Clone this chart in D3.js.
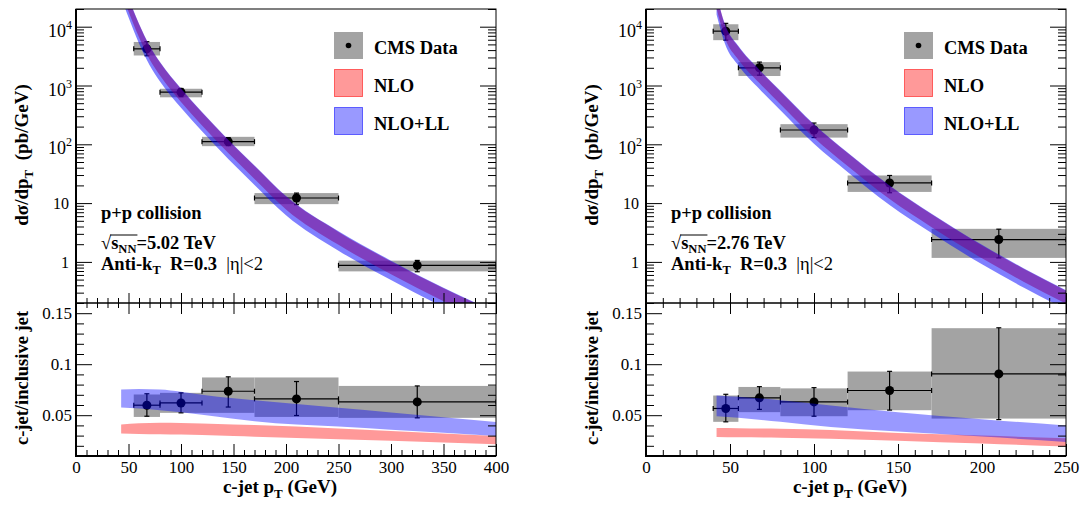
<!DOCTYPE html>
<html><head><meta charset="utf-8">
<script src="https://cdn.jsdelivr.net/npm/d3@7"></script>
<style>
body{margin:0;background:#fff;}
svg text{font-family:"Liberation Serif","Times New Roman",serif;}
</style></head><body><svg id="c" width="1083" height="505"></svg>
<script>
// ---------- 5.02 TeV data ----------
const binLo502 = [55, 80, 120, 170, 250];
const binHi502 = [80, 120, 170, 250, 400];
const pt502 = [67.5, 100, 145, 210, 325];
const xs502 = [4200, 770, 111, 12.2, 0.875];
const xsStatLo502 = [3200, 645, 95, 9.4, 0.68];
const xsStatHi502 = [5560, 890, 130, 14.8, 1.06];
const xsSysLo502 = [3240, 630, 93, 9.6, 0.69];
const xsSysHi502 = [5500, 880, 134, 14.8, 1.05];
const ratio502 = [0.0598, 0.062, 0.0735, 0.066, 0.063];
const ratioStatLo502 = [0.049, 0.0523, 0.058, 0.0497, 0.0474];
const ratioStatHi502 = [0.071, 0.0719, 0.0876, 0.083, 0.0787];
const ratioSysLo502 = [0.0483, 0.0523, 0.0523, 0.0483, 0.0474];
const ratioSysHi502 = [0.0703, 0.0719, 0.087, 0.087, 0.0787];
// theory bands 5.02 TeV (cross section)
const bandPt502 = [43, 50, 60, 70, 80, 100, 120, 145, 170, 200, 250, 300, 350, 400];
const nloLo502 = [3.9e4, 1.82e4, 6600, 2800, 1480, 525, 209, 71, 25.7, 7.8, 1.95, 0.617, 0.214, 0.083];
const nloHi502 = [6.5e4, 3.0e4, 1.10e4, 4700, 2450, 870, 347, 117, 42.7, 12.9, 3.24, 1.02, 0.355, 0.138];
const nllLo502 = [3.1e4, 1.45e4, 5200, 2240, 1170, 417, 166, 56, 20.4, 6.2, 1.55, 0.49, 0.17, 0.066];
const nllHi502 = [6.6e4, 3.1e4, 1.12e4, 4800, 2500, 890, 355, 120, 43.7, 13.2, 3.31, 1.05, 0.363, 0.141];
// theory bands 5.02 TeV (ratio)
const rPt502 = [43, 60, 80, 100, 120, 150, 170, 250, 300, 400];
const rNllLo502 = [0.0575, 0.0565, 0.0549, 0.053, 0.0505, 0.0465, 0.0440, 0.0388, 0.0357, 0.0297];
const rNllHi502 = [0.0752, 0.0757, 0.0752, 0.073, 0.070, 0.0665, 0.0647, 0.0573, 0.0527, 0.0434];
const rNloLo502 = [0.032, 0.0316, 0.0313, 0.031, 0.0305, 0.0295, 0.0288, 0.0265, 0.025, 0.0216];
const rNloHi502 = [0.0409, 0.0420, 0.0425, 0.0423, 0.0418, 0.041, 0.0405, 0.037, 0.0345, 0.0297];

// ---------- 2.76 TeV data ----------
const binLo276 = [40, 55, 80, 120, 170];
const binHi276 = [55, 80, 120, 170, 250];
const pt276 = [47.5, 67.5, 100, 145, 210];
const xs276 = [8400, 2000, 175, 22, 2.4];
const xsStatLo276 = [5900, 1500, 130, 15, 1.17];
const xsStatHi276 = [11400, 2500, 230, 29.5, 3.6];
const xsSysLo276 = [5900, 1450, 130, 15.5, 1.17];
const xsSysHi276 = [11000, 2500, 220, 29.5, 3.65];
const ratio276 = [0.0566, 0.067, 0.063, 0.0742, 0.0905];
const ratioStatLo276 = [0.0435, 0.0557, 0.049, 0.055, 0.0457];
const ratioStatHi276 = [0.0705, 0.078, 0.077, 0.093, 0.1357];
const ratioSysLo276 = [0.0435, 0.053, 0.049, 0.0549, 0.0467];
const ratioSysHi276 = [0.0693, 0.0777, 0.0763, 0.0928, 0.1353];
const bandPt276 = [42, 47, 55, 67.5, 80, 100, 120, 145, 170, 200, 225, 250];
const nloLo276 = [2.04e4, 6450, 2750, 1100, 479, 129, 42.7, 11.7, 3.89, 1.15, 0.457, 0.195];
const nloHi276 = [3.39e4, 1.07e4, 4570, 1820, 794, 214, 70.8, 19.5, 6.46, 1.91, 0.759, 0.324];
const nllLo276 = [1.62e4, 5130, 2190, 870, 380, 102, 33.9, 9.3, 3.09, 0.91, 0.363, 0.155];
const nllHi276 = [3.47e4, 1.10e4, 4680, 1860, 813, 219, 72.4, 20.0, 6.61, 1.95, 0.776, 0.331];
const rPt276 = [42, 55, 80, 110, 150, 200, 250];
const rNllLo276 = [0.049, 0.0475, 0.0435, 0.0385, 0.034, 0.029, 0.0238];
const rNllHi276 = [0.0693, 0.068, 0.0647, 0.0595, 0.053, 0.046, 0.040];
const rNloLo276 = [0.0287, 0.0284, 0.028, 0.0268, 0.025, 0.0222, 0.0193];
const rNloHi276 = [0.0375, 0.0373, 0.0368, 0.0355, 0.0325, 0.030, 0.0275];

// ---------- labels ----------
const xMajor502 = [0, 50, 100, 150, 200, 250, 300, 350, 400];
const xMajor276 = [0, 50, 100, 150, 200, 250];
const yLogMajor = [1, 10, 100, 1000, 10000];
const yRatioMajor = [0.05, 0.1, 0.15];
const legendLabels = ["CMS Data", "NLO", "NLO+LL"];
const energyLabels = ["5.02 TeV", "2.76 TeV"];

const svg = d3.select("#c");
svg.append("rect").attr("width",1083).attr("height",505).attr("fill","#fff");

const GRAY = "#a3a3a3";
const FONT_SANS = "'Liberation Sans', Arial, Helvetica, sans-serif";

function zipArr(...arrs){ return arrs[0].map((_,i)=>arrs.map(a=>a[i])); }

function drawPanel(cfg, idx){
  const x = d3.scaleLinear().domain([0, cfg.xmax]).range([cfg.x0, cfg.x1]);
  const yT = d3.scaleLog().domain([0.2, 2e4]).range([303, 9]);
  const yB = d3.scaleLinear().domain([0.01, 0.16]).range([456, 303]);
  const g = svg.append("g");
  const defs = svg.append("defs");
  defs.append("clipPath").attr("id","cT"+idx).append("rect")
    .attr("x",cfg.x0).attr("y",9).attr("width",cfg.x1-cfg.x0).attr("height",294);
  defs.append("clipPath").attr("id","cB"+idx).append("rect")
    .attr("x",cfg.x0).attr("y",303).attr("width",cfg.x1-cfg.x0).attr("height",153);

  function dataLayer(gg, y, ys){
    const [val, sLo, sHi, yLo, yHi] = ys;
    const pts = cfg.pt.map((p,i)=>({p, lo:cfg.lo[i], hi:cfg.hi[i], v:val[i], sLo:sLo[i], sHi:sHi[i], yLo:yLo[i], yHi:yHi[i]}));
    gg.selectAll(".box").data(pts).enter().append("rect")
      .attr("x",d=>x(d.lo)).attr("width",d=>x(d.hi)-x(d.lo))
      .attr("y",d=>y(d.yHi)).attr("height",d=>y(d.yLo)-y(d.yHi))
      .attr("fill",GRAY);
    const eb = gg.append("g").attr("stroke","#000").attr("stroke-width",1.2);
    pts.forEach(d=>{
      eb.append("line").attr("x1",x(d.lo)).attr("x2",x(d.hi)).attr("y1",y(d.v)).attr("y2",y(d.v));
      eb.append("line").attr("x1",x(d.p)).attr("x2",x(d.p)).attr("y1",y(d.sLo)).attr("y2",y(d.sHi));
      [d.lo,d.hi].forEach(e=>eb.append("line").attr("x1",x(e)).attr("x2",x(e)).attr("y1",y(d.v)-2.5).attr("y2",y(d.v)+2.5));
      [d.sLo,d.sHi].forEach(e=>eb.append("line").attr("x1",x(d.p)-2.5).attr("x2",x(d.p)+2.5).attr("y1",y(e)).attr("y2",y(e)));
    });
    gg.selectAll(".mk").data(pts).enter().append("circle")
      .attr("cx",d=>x(d.p)).attr("cy",d=>y(d.v)).attr("r",4.5).attr("fill","#000");
  }
  function bandLayer(gg, y, pt, lo, hi, color){
    const area = d3.area().x(d=>x(d[0])).y0(d=>y(d[1])).y1(d=>y(d[2])).curve(d3.curveMonotoneX);
    gg.append("path").datum(zipArr(pt, lo, hi)).attr("d", area).attr("fill", color);
  }
  // top panel
  const gT = g.append("g").attr("clip-path","url(#cT"+idx+")");
  dataLayer(gT, yT, [cfg.xs, cfg.xsStatLo, cfg.xsStatHi, cfg.xsSysLo, cfg.xsSysHi]);
  bandLayer(gT, yT, cfg.bandPt, cfg.nloLo, cfg.nloHi, "rgba(255,0,0,0.5)");
  bandLayer(gT, yT, cfg.bandPt, cfg.nllLo, cfg.nllHi, "rgba(0,0,255,0.5)");
  // bottom panel
  const gB = g.append("g").attr("clip-path","url(#cB"+idx+")");
  dataLayer(gB, yB, [cfg.r, cfg.rStatLo, cfg.rStatHi, cfg.rSysLo, cfg.rSysHi]);
  bandLayer(gB, yB, cfg.rPt, cfg.rNloLo, cfg.rNloHi, "rgba(255,0,0,0.4)");
  bandLayer(gB, yB, cfg.rPt, cfg.rNllLo, cfg.rNllHi, "rgba(0,0,255,0.4)");

  // axes / ticks
  const minorX = d3.range(0, cfg.xmax+1, 10).filter(v=>v%50!==0);
  const minorLog = [];
  for (let e=-1;e<=4;e++) for (let m=2;m<=9;m++){ const v=m*Math.pow(10,e); if (v>=0.2 && v<=2e4) minorLog.push(v); }
  const minorR = d3.range(2,16).map(v=>v/100).filter(v=>Math.round(v*100)%5!==0);
  function ax(gen, tx, ty, size){
    const a = g.append("g").attr("transform",`translate(${tx},${ty})`).call(gen.tickSize(size).tickFormat(""));
    a.select(".domain").remove();
    a.selectAll("line").attr("stroke","#000").attr("stroke-width",1);
    return a;
  }
  ax(d3.axisLeft(yT).tickValues(yLogMajor), cfg.x0, 0, -16);
  ax(d3.axisLeft(yT).tickValues(minorLog), cfg.x0, 0, -8);
  ax(d3.axisRight(yT).tickValues(yLogMajor), cfg.x1, 0, -16);
  ax(d3.axisRight(yT).tickValues(minorLog), cfg.x1, 0, -8);
  ax(d3.axisLeft(yB).tickValues(yRatioMajor), cfg.x0, 0, -16);
  ax(d3.axisLeft(yB).tickValues(minorR), cfg.x0, 0, -8);
  ax(d3.axisRight(yB).tickValues(yRatioMajor), cfg.x1, 0, -16);
  ax(d3.axisRight(yB).tickValues(minorR), cfg.x1, 0, -8);
  ax(d3.axisBottom(x).tickValues(cfg.xMajor), 0, 303, -10);
  ax(d3.axisBottom(x).tickValues(minorX), 0, 303, -5);
  ax(d3.axisTop(x).tickValues(cfg.xMajor), 0, 303, -11);
  ax(d3.axisTop(x).tickValues(minorX), 0, 303, -5);
  ax(d3.axisBottom(x).tickValues(cfg.xMajor), 0, 456, -12);
  ax(d3.axisBottom(x).tickValues(minorX), 0, 456, -6);

  // x labels
  const xl = g.append("g").attr("transform",`translate(0,456)`)
    .call(d3.axisBottom(x).tickValues(cfg.xMajor).tickSize(0).tickPadding(5).tickFormat(d3.format("d")));
  xl.select(".domain").remove();
  xl.attr("font-size",17).attr("font-family",FONT_SANS);
  // ratio y labels
  const yl = g.append("g").attr("transform",`translate(${cfg.x0},0)`)
    .call(d3.axisLeft(yB).tickValues(yRatioMajor).tickSize(0).tickPadding(4).tickFormat(d=>String(+d.toFixed(2))));
  yl.select(".domain").remove();
  yl.attr("font-size",17).attr("font-family",FONT_SANS);
  // log y labels
  yLogMajor.forEach(v=>{
    const e = Math.round(Math.log10(v));
    const t = g.append("text").attr("font-family",FONT_SANS).attr("text-anchor","end");
    if (e>=2){
      t.attr("x",cfg.x0-4).attr("y",yT(v)+10).attr("font-size",18);
      t.append("tspan").text("10");
      t.append("tspan").attr("font-size",12).attr("dy",-8).text(String(e));
    } else {
      t.attr("x",cfg.x0-7).attr("y",yT(v)+6).attr("font-size",16).text(e===1?"10":"1");
    }
  });

  // frames
  const fr = g.append("g").attr("fill","none").attr("stroke","#000");
  fr.append("rect").attr("x",cfg.x0).attr("y",9).attr("width",cfg.x1-cfg.x0).attr("height",294).attr("stroke-width",1);
  fr.append("rect").attr("x",cfg.x0).attr("y",303).attr("width",cfg.x1-cfg.x0).attr("height",153).attr("stroke-width",1);
  fr.append("line").attr("x1",cfg.x0).attr("x2",cfg.x0).attr("y1",9).attr("y2",457).attr("stroke-width",2);
  fr.append("line").attr("x1",cfg.x0-1).attr("x2",cfg.x1).attr("y1",456).attr("y2",456).attr("stroke-width",2);

  // axis titles
  const ty = g.append("text").attr("font-weight","bold").attr("font-size",19)
    .attr("text-anchor","middle").attr("transform",`translate(${cfg.x0-48},155) rotate(-90)`);
  ty.append("tspan").text("dσ/dp");
  ty.append("tspan").attr("font-size",13).attr("dy",5).text("T");
  ty.append("tspan").attr("dy",-5).text("\u00a0\u00a0(pb/GeV)");
  g.append("text").attr("font-weight","bold").attr("font-size",18.5)
    .attr("text-anchor","middle").attr("transform",`translate(${cfg.x0-48},378) rotate(-90)`)
    .text("c-jet/inclusive jet");
  const tx = g.append("text").attr("font-weight","bold").attr("font-size",19)
    .attr("text-anchor","middle").attr("x",cfg.x0+204).attr("y",493);
  tx.append("tspan").text("c-jet p");
  tx.append("tspan").attr("font-size",13).attr("dy",5).text("T");
  tx.append("tspan").attr("dy",-5).text("\u00a0(GeV)");

  // annotation
  const ax0 = cfg.x0+25;
  const FS = 18.5;
  g.append("text").attr("font-weight","bold").attr("font-size",FS).attr("x",ax0).attr("y",219).text("p+p collision");
  const s = g.append("text").attr("font-weight","bold").attr("font-size",FS).attr("x",ax0).attr("y",248.5);
  s.append("tspan").attr("font-weight","normal").text("√");
  s.append("tspan").text("s");
  s.append("tspan").attr("font-size",12.5).attr("dy",4).text("NN");
  s.append("tspan").attr("dy",-4).text("=" + energyLabels[idx]);
  const node = s.node();
  const e0 = node.getExtentOfChar(0), e3 = node.getExtentOfChar(3);
  g.append("line").attr("x1",e0.x+e0.width-1).attr("x2",e3.x+e3.width+1)
    .attr("y1",e0.y+2.5).attr("y2",e0.y+2.5).attr("stroke","#000").attr("stroke-width",1);
  const a3 = g.append("text").attr("font-weight","bold").attr("font-size",FS).attr("x",ax0).attr("y",269.5);
  a3.append("tspan").text("Anti-k");
  a3.append("tspan").attr("font-size",12.5).attr("dy",4).text("T");
  a3.append("tspan").attr("dy",-4).text("\u00a0\u00a0R=0.3\u00a0\u00a0");
  a3.append("tspan").attr("font-weight","normal").text("|η|<2");

  // legend
  const lx = cfg.x0+258;
  const ly = [32, 69.5, 107.5];
  const lg = g.append("g");
  lg.append("rect").attr("x",lx).attr("y",ly[0]).attr("width",29).attr("height",27).attr("fill",GRAY);
  lg.append("circle").attr("cx",lx+14.5).attr("cy",ly[0]+13.5).attr("r",2.8).attr("fill","#000");
  lg.append("rect").attr("x",lx+0.5).attr("y",ly[1]).attr("width",28).attr("height",27)
    .attr("fill","rgba(255,0,0,0.4)").attr("stroke","rgba(255,0,0,0.55)");
  lg.append("rect").attr("x",lx+0.5).attr("y",ly[2]).attr("width",28).attr("height",27)
    .attr("fill","rgba(0,0,255,0.4)").attr("stroke","rgba(0,0,255,0.55)");
  legendLabels.forEach((t,i)=>{
    lg.append("text").attr("font-weight","bold").attr("font-size",18.5).attr("x",lx+40).attr("y",ly[i]+22).text(t);
  });
}

drawPanel({x0:76, x1:496, xmax:400, xMajor:xMajor502,
  pt:pt502, lo:binLo502, hi:binHi502,
  xs:xs502, xsStatLo:xsStatLo502, xsStatHi:xsStatHi502, xsSysLo:xsSysLo502, xsSysHi:xsSysHi502,
  r:ratio502, rStatLo:ratioStatLo502, rStatHi:ratioStatHi502, rSysLo:ratioSysLo502, rSysHi:ratioSysHi502,
  bandPt:bandPt502, nloLo:nloLo502, nloHi:nloHi502, nllLo:nllLo502, nllHi:nllHi502,
  rPt:rPt502, rNloLo:rNloLo502, rNloHi:rNloHi502, rNllLo:rNllLo502, rNllHi:rNllHi502}, 0);
drawPanel({x0:646, x1:1066, xmax:250, xMajor:xMajor276,
  pt:pt276, lo:binLo276, hi:binHi276,
  xs:xs276, xsStatLo:xsStatLo276, xsStatHi:xsStatHi276, xsSysLo:xsSysLo276, xsSysHi:xsSysHi276,
  r:ratio276, rStatLo:ratioStatLo276, rStatHi:ratioStatHi276, rSysLo:ratioSysLo276, rSysHi:ratioSysHi276,
  bandPt:bandPt276, nloLo:nloLo276, nloHi:nloHi276, nllLo:nllLo276, nllHi:nllHi276,
  rPt:rPt276, rNloLo:rNloLo276, rNloHi:rNloHi276, rNllLo:rNllLo276, rNllHi:rNllHi276}, 1);
</script></body></html>
